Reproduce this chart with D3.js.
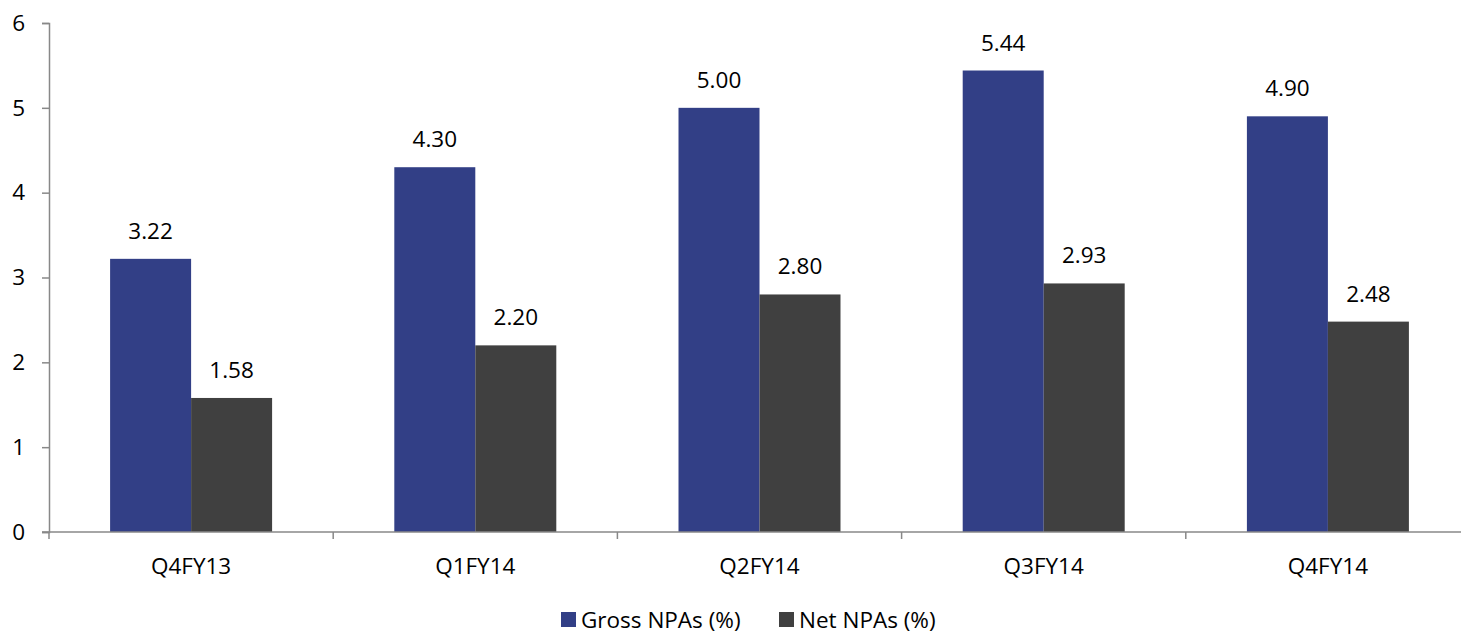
<!DOCTYPE html>
<html>
<head>
<meta charset="utf-8">
<script src="https://cdn.jsdelivr.net/npm/d3@7"></script>
<style>
  html, body { margin: 0; padding: 0; background: #fff; }
  svg { display: block; font-family: "Open Sans", sans-serif; }
</style>
</head>
<body>
<svg id="chart" width="1461" height="635"></svg>
<script>
// Quarterly asset quality
const quarters = ["Q4FY13", "Q1FY14", "Q2FY14", "Q3FY14", "Q4FY14"];
const grossNPA = [3.22, 4.30, 5.00, 5.44, 4.90];
const netNPA = [1.58, 2.20, 2.80, 2.93, 2.48];
const seriesNames = ["Gross NPAs (%)", "Net NPAs (%)"];
const seriesColors = ["#323F86", "#404040"];
const yTicks = [0, 1, 2, 3, 4, 5, 6];

const svg = d3.select("#chart");
const plotLeft = 49, plotRight = 1470, plotTop = 23, plotBottom = 532;
const fontSize = 22.5;

const x = d3.scaleBand().domain(quarters).range([plotLeft, plotRight]).paddingInner(0.43).paddingOuter(0.215);
const xStep = d3.scaleBand().domain(quarters).range([plotLeft, plotRight]);
const sub = d3.scaleBand().domain([0, 1]).range([0, x.bandwidth()]);
const y = d3.scaleLinear().domain([0, 6]).range([plotBottom, plotTop]);

const axisColor = "#888888";

// bars
const rows = quarters.map((q, i) => ({ q, vals: [grossNPA[i], netNPA[i]] }));
const groups = svg.append("g").selectAll("g").data(rows).join("g")
  .attr("transform", d => `translate(${x(d.q)},0)`);

groups.selectAll("rect").data(d => d.vals.map((v, k) => ({ v, k }))).join("rect")
  .attr("x", d => sub(d.k))
  .attr("width", sub.bandwidth())
  .attr("y", d => y(d.v))
  .attr("height", d => y(0) - y(d.v))
  .attr("fill", d => seriesColors[d.k]);

groups.selectAll("text.val").data(d => d.vals.map((v, k) => ({ v, k }))).join("text")
  .attr("class", "val")
  .attr("x", d => sub(d.k) + sub.bandwidth() / 2)
  .attr("y", d => y(d.v) - 20)
  .attr("text-anchor", "middle")
  .attr("font-size", fontSize)
  .attr("fill", "#000")
  .text(d => d.v.toFixed(2));

// y axis
const yAxis = svg.append("g").attr("transform", `translate(${plotLeft},0)`)
  .call(d3.axisLeft(y).tickValues(yTicks).tickFormat(d3.format("d")).tickSize(7).tickPadding(17));
yAxis.select(".domain").attr("stroke", axisColor).attr("stroke-width", 1.5);
yAxis.selectAll(".tick line").attr("stroke", axisColor).attr("stroke-width", 1.5);
yAxis.selectAll("text").attr("font-size", fontSize).attr("fill", "#000").attr("font-family", "Open Sans");

// x axis: tick marks at category boundaries
svg.append("line")
  .attr("x1", plotLeft - 7).attr("x2", plotRight)
  .attr("y1", plotBottom).attr("y2", plotBottom)
  .attr("stroke", axisColor).attr("stroke-width", 1.5);
svg.append("g").selectAll("line").data(quarters).join("line")
  .attr("x1", d => xStep(d)).attr("x2", d => xStep(d))
  .attr("y1", plotBottom).attr("y2", plotBottom + 7)
  .attr("stroke", axisColor).attr("stroke-width", 1.5);
svg.append("g").selectAll("text").data(quarters).join("text")
  .attr("x", d => xStep(d) + xStep.bandwidth() / 2)
  .attr("y", 574)
  .attr("text-anchor", "middle")
  .attr("font-size", fontSize)
  .attr("fill", "#000")
  .text(d => d);

// legend
const legendX = [561, 779];
const legend = svg.append("g").selectAll("g").data(seriesNames).join("g")
  .attr("transform", (d, i) => `translate(${legendX[i]},612)`);
legend.append("rect").attr("width", 15).attr("height", 15).attr("fill", (d, i) => seriesColors[i]);
legend.append("text").attr("x", 20).attr("y", 16).attr("font-size", fontSize).attr("fill", "#000").text(d => d);
</script>
</body>
</html>
